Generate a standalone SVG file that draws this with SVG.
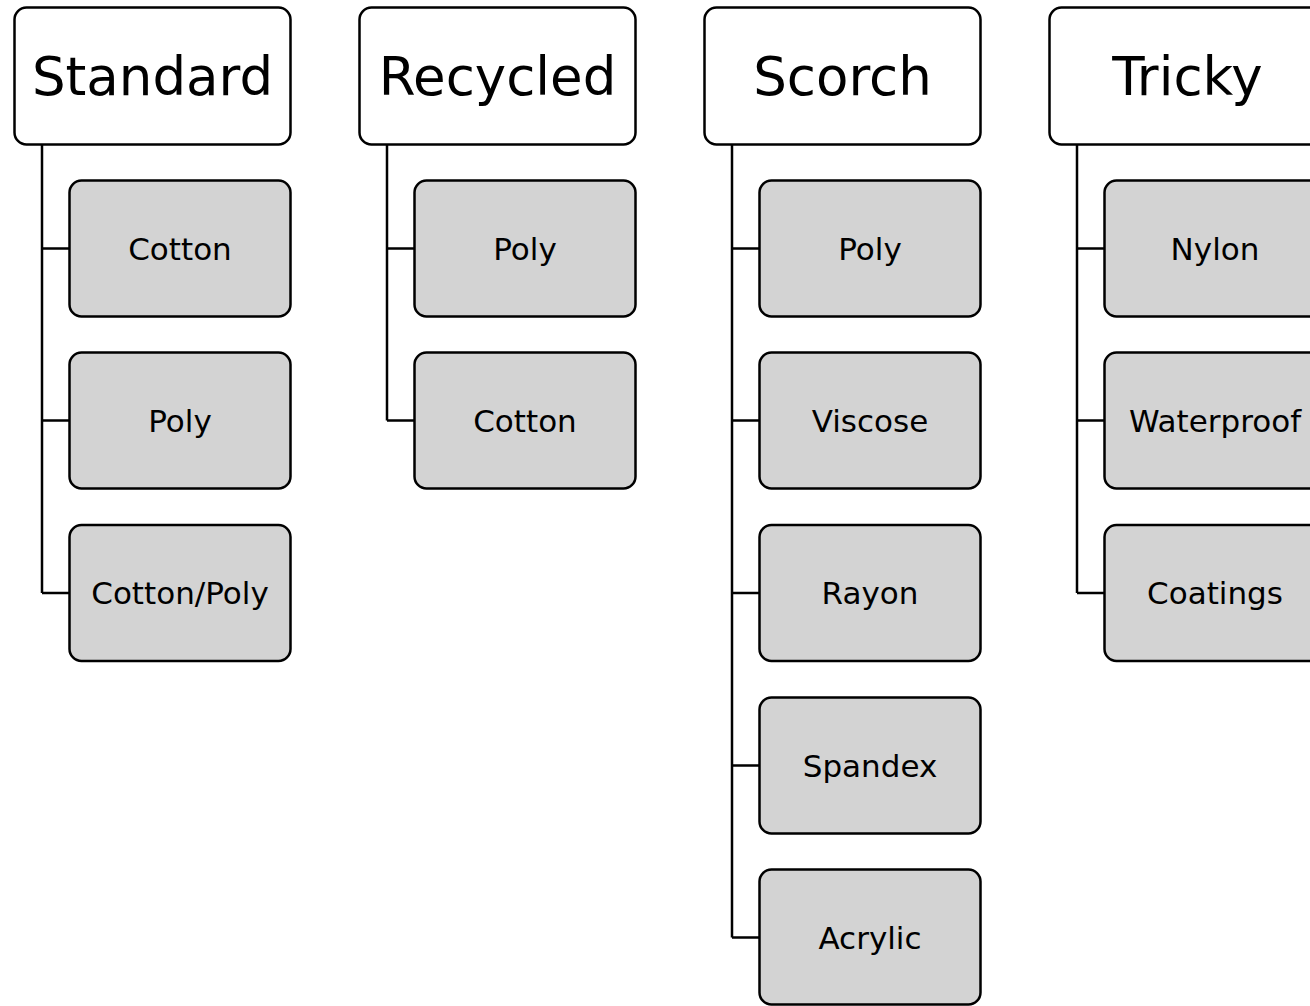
<svg xmlns="http://www.w3.org/2000/svg" width="1310" height="1006" viewBox="0 0 1310 1006">
<style>
.hdr{fill:#fff;stroke:#000;stroke-width:2.5}
.child{fill:#d3d3d3;stroke:#000;stroke-width:2.5}
.ht{font-family:"DejaVu Sans",Verdana,sans-serif;font-size:53px;text-anchor:middle;fill:#000}
.ct{font-family:"DejaVu Sans",Verdana,sans-serif;font-size:31px;text-anchor:middle;fill:#000}
.conn{fill:none;stroke:#000;stroke-width:2.5}
</style>
<rect width="1310" height="1006" fill="#fff"/>
<g id="connectors">
<path class="conn" d="M42 144.5V593M42 248.5H69.5M42 420.5H69.5M42 593H69.5"/>
<path class="conn" d="M387 144.5V420.5M387 248.5H414.5M387 420.5H414.5"/>
<path class="conn" d="M732 144.5V937.5M732 248.5H759.5M732 420.5H759.5M732 593H759.5M732 765.5H759.5M732 937.5H759.5"/>
<path class="conn" d="M1077 144.5V593M1077 248.5H1104.5M1077 420.5H1104.5M1077 593H1104.5"/>
</g>
<g id="standard"><rect class="hdr" x="14.5" y="7.5" width="276" height="137" rx="12"/><text class="ht" x="152.5" y="95">Standard</text></g>
<g id="standard-cotton"><rect class="child" x="69.5" y="180.5" width="221" height="136" rx="12"/><text class="ct" x="180" y="259.5">Cotton</text></g>
<g id="standard-poly"><rect class="child" x="69.5" y="352.5" width="221" height="136" rx="12"/><text class="ct" x="180" y="431.5">Poly</text></g>
<g id="standard-cottonpoly"><rect class="child" x="69.5" y="525" width="221" height="136" rx="12"/><text class="ct" x="180" y="604">Cotton/Poly</text></g>

<g id="recycled"><rect class="hdr" x="359.5" y="7.5" width="276" height="137" rx="12"/><text class="ht" x="497.5" y="95">Recycled</text></g>
<g id="recycled-poly"><rect class="child" x="414.5" y="180.5" width="221" height="136" rx="12"/><text class="ct" x="525" y="259.5">Poly</text></g>
<g id="recycled-cotton"><rect class="child" x="414.5" y="352.5" width="221" height="136" rx="12"/><text class="ct" x="525" y="431.5">Cotton</text></g>

<g id="scorch"><rect class="hdr" x="704.5" y="7.5" width="276" height="137" rx="12"/><text class="ht" x="842.5" y="95">Scorch</text></g>
<g id="scorch-poly"><rect class="child" x="759.5" y="180.5" width="221" height="136" rx="12"/><text class="ct" x="870" y="259.5">Poly</text></g>
<g id="scorch-viscose"><rect class="child" x="759.5" y="352.5" width="221" height="136" rx="12"/><text class="ct" x="870" y="431.5">Viscose</text></g>
<g id="scorch-rayon"><rect class="child" x="759.5" y="525" width="221" height="136" rx="12"/><text class="ct" x="870" y="604">Rayon</text></g>
<g id="scorch-spandex"><rect class="child" x="759.5" y="697.5" width="221" height="136" rx="12"/><text class="ct" x="870" y="776.5">Spandex</text></g>
<g id="scorch-acrylic"><rect class="child" x="759.5" y="869.5" width="221" height="135" rx="12"/><text class="ct" x="870" y="948.5">Acrylic</text></g>

<g id="tricky"><rect class="hdr" x="1049.5" y="7.5" width="276" height="137" rx="12"/><text class="ht" x="1187.5" y="95">Tricky</text></g>
<g id="tricky-nylon"><rect class="child" x="1104.5" y="180.5" width="221" height="136" rx="12"/><text class="ct" x="1215" y="259.5">Nylon</text></g>
<g id="tricky-waterproof"><rect class="child" x="1104.5" y="352.5" width="221" height="136" rx="12"/><text class="ct" x="1215" y="431.5">Waterproof</text></g>
<g id="tricky-coatings"><rect class="child" x="1104.5" y="525" width="221" height="136" rx="12"/><text class="ct" x="1215" y="604">Coatings</text></g>
</svg>
